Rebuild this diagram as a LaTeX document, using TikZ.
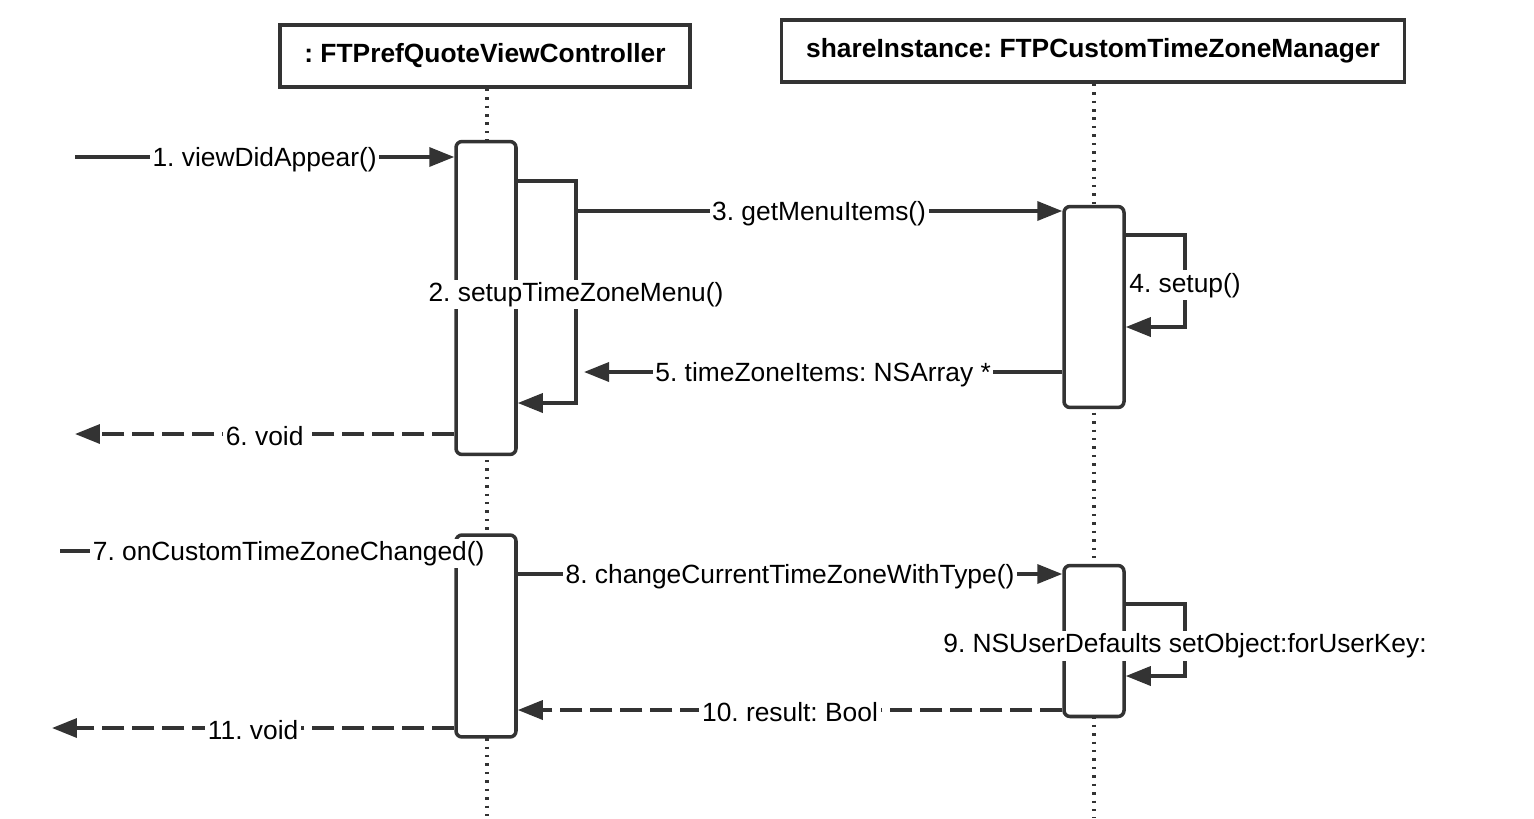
\documentclass[tikz,border=0pt]{standalone}
\usepackage{fontspec}
\setmainfont{Liberation Sans}
\usetikzlibrary{arrows.meta}
\definecolor{linegray}{HTML}{333333}
\frenchspacing

\begin{document}
\begin{tikzpicture}[x=0.02cm, y=-0.02cm,
  object node/.style={draw=linegray, line width=2pt, minimum height=1.24cm, font=\fontsize{15}{18}\selectfont\bfseries},
  activation node/.style={draw=linegray, fill=white, line width=2pt, rounded corners=0.12cm, minimum width=1.2cm},
  label node/.style={fill=white, inner sep=1.5pt, yshift=-0.05cm, font=\fontsize{15}{18}\selectfont},
  call/.style={draw=linegray, line width=2pt, -{Triangle[length=0.5cm,width=0.38cm]}},
  reply/.style={call, dash pattern=on 0.44cm off 0.16cm},
  lifeline/.style={draw=linegray, line width=2pt, dash pattern=on 1.4pt off 3.4pt}]
\useasboundingbox (0,0) rectangle (1534,818);

\node[object node, minimum width=8.2cm]   (ctrl) at (485,56) {: FTPrefQuoteViewController};
\node[object node, minimum width=12.46cm] (mgr)  at (1093,51) {shareInstance: FTPCustomTimeZoneManager};

\coordinate (bottom) at (0,818);
\draw[lifeline] (ctrl.south) ++(2,0) coordinate (ctrltop) -- (ctrltop |- bottom);
\draw[lifeline] (mgr.south) ++(1,0) coordinate (mgrtop) -- (mgrtop |- bottom);

\node[activation node, minimum height=6.26cm] (a1) at (486,298) {};
\node[activation node, minimum height=4.02cm] (b1) at (1094,307) {};
\node[activation node, minimum height=4.04cm] (a2) at (486,636) {};
\node[activation node, minimum height=3.02cm] (b2) at (1094,641) {};

\coordinate (in1)   at (75,157);
\coordinate (s2top) at (576,181);
\coordinate (s2bot) at (576,403);
\coordinate (m3)    at (576,211);
\coordinate (s4top) at (1185,235);
\coordinate (s4bot) at (1185,327);
\coordinate (m5)    at (584,372);
\coordinate (out6)  at (75,434);
\coordinate (in7)   at (60,551);
\coordinate (y8)    at (0,574);
\coordinate (s9top) at (1185,604);
\coordinate (s9bot) at (1185,676);
\coordinate (y10)   at (0,710);
\coordinate (out11) at (52,728);

\draw[call] (in1) -- node[label node] {1. viewDidAppear()} (a1.west |- in1);
\draw[call] (a1.east |- s2top) -- (s2top) -- node[label node] {2. setupTimeZoneMenu()} (s2bot) -- (a1.east |- s2bot);
\draw[call] (m3) -- node[label node] {3. getMenuItems()} (b1.west |- m3);
\draw[call] (b1.east |- s4top) -- (s4top) -- node[label node, pos=0.52] {4. setup()} (s4bot) -- (b1.east |- s4bot);
\draw[call] (b1.west |- m5) -- node[label node] {5. timeZoneItems: NSArray *} (m5);
\draw[reply] (a1.west |- out6) -- node[label node] {6. void} (out6);
\draw[call] (in7) -- node[label node, pos=0.58] {7. onCustomTimeZoneChanged()} (a2.west |- in7);
\draw[call] (a2.east |- y8) -- node[label node] {8. changeCurrentTimeZoneWithType()} (b2.west |- y8);
\draw[call] (b2.east |- s9top) -- (s9top) -- node[label node, pos=0.55] {9. NSUserDefaults setObject:forUserKey:} (s9bot) -- (b2.east |- s9bot);
\draw[reply] (b2.west |- y10) -- node[label node] {10. result: Bool} (a2.east |- y10);
\draw[reply] (a2.west |- out11) -- node[label node] {11. void} (out11);
\end{tikzpicture}
\end{document}
